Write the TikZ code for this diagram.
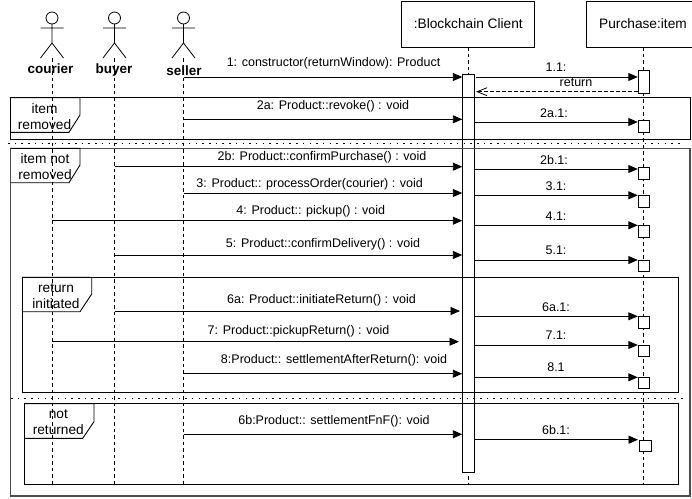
\documentclass[tikz,border=0pt]{standalone}
\usepackage{fontspec}
\setmainfont{Liberation Sans}
\usetikzlibrary{arrows.meta}
\tikzset{
  objbox/.style={draw, fill=white, line width=0.9pt, inner sep=0pt, font=\fontsize{13.7}{16}\selectfont},
  actorname/.style={font=\fontsize{13.5}{16}\selectfont\bfseries},
  lifeline/.style={line width=0.9pt, dash pattern=on 3.5pt off 3pt},
  execbar/.style={draw, fill=white, line width=0.9pt, inner sep=0pt, minimum width=11.5pt},
  execsq/.style={execbar, minimum height=11.5pt},
  msg/.style={line width=0.9pt, -{Triangle[length=9.5pt,width=8pt]}},
  reply/.style={line width=0.8pt, dash pattern=on 3.5pt off 2.5pt, -{Straight Barb[length=10pt,width=8pt]}},
  msgtext/.style={font=\fontsize{12.5}{15}\selectfont, inner sep=0pt, yshift=-1pt},
  frametext/.style={font=\fontsize{13.7}{16}\selectfont, align=center, inner sep=0pt},
  frameline/.style={draw, line width=0.9pt},
  outerframe/.style={draw=black!70, line width=1.2pt},
  altline/.style={line width=1.5pt, dash pattern=on 1.5pt off 5.2pt}
}

\begin{document}
\begin{tikzpicture}[x=1pt,y=-1pt]
  \useasboundingbox (0,0) rectangle (692,498);

  % actors
  \foreach \who/\xx in {courier/52,buyer/114.5,seller/183.5}{
    \coordinate (\who) at (\xx,58);
    \coordinate (\who end) at (\xx,484);
    \draw[line width=0.8pt] (\xx,18) circle (6);
    \draw[line width=0.8pt] (\xx,24) -- (\xx,43) (\xx-11.5,28) -- (\xx+11.5,28)
      (\xx-11.5,58) -- (\xx,43) -- (\xx+11.5,58);
    \draw[lifeline] (\who) -- (\who end);
  }
  \node[actorname] (courier name) at (50.5,69) {courier};
  \node[actorname] (buyer name) at (114,70) {buyer};
  \node[actorname] (seller name) at (184,71) {seller};

  % objects
  \node[objbox, minimum width=133pt, minimum height=46pt] (client) at (468.3,24) {:Blockchain Client};
  \node[objbox, minimum width=106pt, minimum height=46pt] (item) at (639.7,24) {};
  \node[font=\fontsize{13.7}{16}\selectfont] (item name) at (643,24) {Purchase:item};
  \coordinate (client end) at (468.3,484);
  \coordinate (item end) at (643.7,484);
  \draw[lifeline] (client) -- (client end);
  \draw[lifeline] (643.7,47) -- (item end);

  % activations
  \node[execbar, minimum height=398pt] (bar) at (468.5,273.7) {};
  \node[execbar, minimum height=23pt] (first) at (644,81.5) {};
  \foreach \name/\yy in {2a/126.5,2b/173.3,3/201.3,4/231.3,5/265.8,6a/322.3,7/351,8/383.1}{
    \node[execsq] (sq\name) at (644,\yy) {};
  }
  \node[execsq] (sq6b) at (645.3,445.8) {};

  % frames
  \draw[frameline] (10.7,97.7) rectangle (690,139);
  \draw[frameline] (10.7,97.7) -- (80,97.7) -- (80,115) -- (69,132.3) -- (10.7,132.3);
  \draw[outerframe] (10.7,148.3) rectangle (690,496);
  \draw[frameline] (10.7,148.3) -- (80,148.3) -- (80,165) -- (69,182.7) -- (10.7,182.7);
  \draw[frameline] (22.3,277.3) rectangle (678.3,392.3);
  \draw[frameline] (22.3,277.3) -- (91.7,277.3) -- (91.7,294) -- (80,311.7) -- (22.3,311.7);
  \draw[frameline] (24.7,403.7) rectangle (678.3,484.3);
  \draw[frameline] (24.7,403.7) -- (94,403.7) -- (94,421.7) -- (82.7,438.3) -- (24.7,438.3);
  \node[frametext] (tab1) at (44.5,116.5) {item\\removed};
  \node[frametext] (tab2) at (45,167) {item not\\removed};
  \node[frametext] (tab3) at (56,296) {return\\initiated};
  \node[frametext] (tab4) at (58.3,422) {not\\returned};
  \coordinate (alt1a) at (8,143.3);
  \coordinate (alt1b) at (683,143.3);
  \coordinate (alt2a) at (11,398.3);
  \coordinate (alt2b) at (685,398.3);
  \draw[altline] (alt1a) -- (alt1b);
  \draw[altline] (alt2a) -- (alt2b);

  % messages to the client
  \draw[msg] (seller |- 0,77) -- (bar.west |- 0,77);
  \draw[msg] (seller |- 0,119.3) -- (bar.west |- 0,119.3);
  \draw[msg] (buyer |- 0,166.7) -- (bar.west |- 0,166.7);
  \draw[msg] (seller |- 0,193) -- (bar.west |- 0,193);
  \draw[msg] (courier |- 0,220.7) -- (bar.west |- 0,220.7);
  \draw[msg] (buyer |- 0,255) -- (bar.west |- 0,255);
  \draw[msg] (buyer |- 0,311) -- (460,311);
  \draw[msg] (courier |- 0,341.7) -- (459,341.7);
  \draw[msg] (seller |- 0,373.7) -- (bar.west |- 0,373.7);
  \draw[msg] (seller |- 0,434.3) -- (bar.west |- 0,434.3);
  \node[msgtext] (m1) at (333.5,62.5) {1: constructor(returnWindow): Product};
  \node[msgtext] (m2a) at (333,105.5) {2a: Product::revoke() : void};
  \node[msgtext] (m2b) at (322,156.5) {2b: Product::confirmPurchase() : void};
  \node[msgtext] (m3) at (309.7,183) {3: Product:: processOrder(courier) : void};
  \node[msgtext] (m4) at (310.8,210.5) {4: Product:: pickup() : void};
  \node[msgtext] (m5) at (323,243.5) {5: Product::confirmDelivery() : void};
  \node[msgtext] (m6a) at (321.5,299.5) {6a: Product::initiateReturn() : void};
  \node[msgtext] (m7) at (298.5,330.5) {7: Product::pickupReturn() : void};
  \node[msgtext] (m8) at (334,359.5) {8:Product:: settlementAfterReturn(): void};
  \node[msgtext] (m6b) at (334,420.5) {6b:Product:: settlementFnF(): void};

  % messages to the item
  \draw[msg] (476,77) -- (first.west |- 0,77);
  \draw[reply] (first.west |- 0,91.7) -- (476,91.7);
  \foreach \name/\yy in {2a/122,2b/169,3/195.3,4/225.3,5/260,6a/316.3,7/345,8/377.3}{
    \draw[msg] (bar.east |- 0,\yy) -- (sq\name.west |- 0,\yy);
  }
  \draw[msg] (bar.east |- 0,439.7) -- (638,439.7);
  \node[msgtext] (m11) at (556,66.5) {1.1:};
  \node[msgtext] (ret) at (576,81.5) {return};
  \node[msgtext] (n2a) at (554,112) {2a.1:};
  \node[msgtext] (n2b) at (554,159) {2b.1:};
  \node[msgtext] (n3) at (556,185.3) {3.1:};
  \node[msgtext] (n4) at (556,215) {4.1:};
  \node[msgtext] (n5) at (556,249.5) {5.1:};
  \node[msgtext] (n6a) at (556,306) {6a.1:};
  \node[msgtext] (n7) at (556,334.5) {7.1:};
  \node[msgtext] (n8) at (556,366.5) {8.1};
  \node[msgtext] (n6b) at (556,428.7) {6b.1:};
\end{tikzpicture}
\end{document}
